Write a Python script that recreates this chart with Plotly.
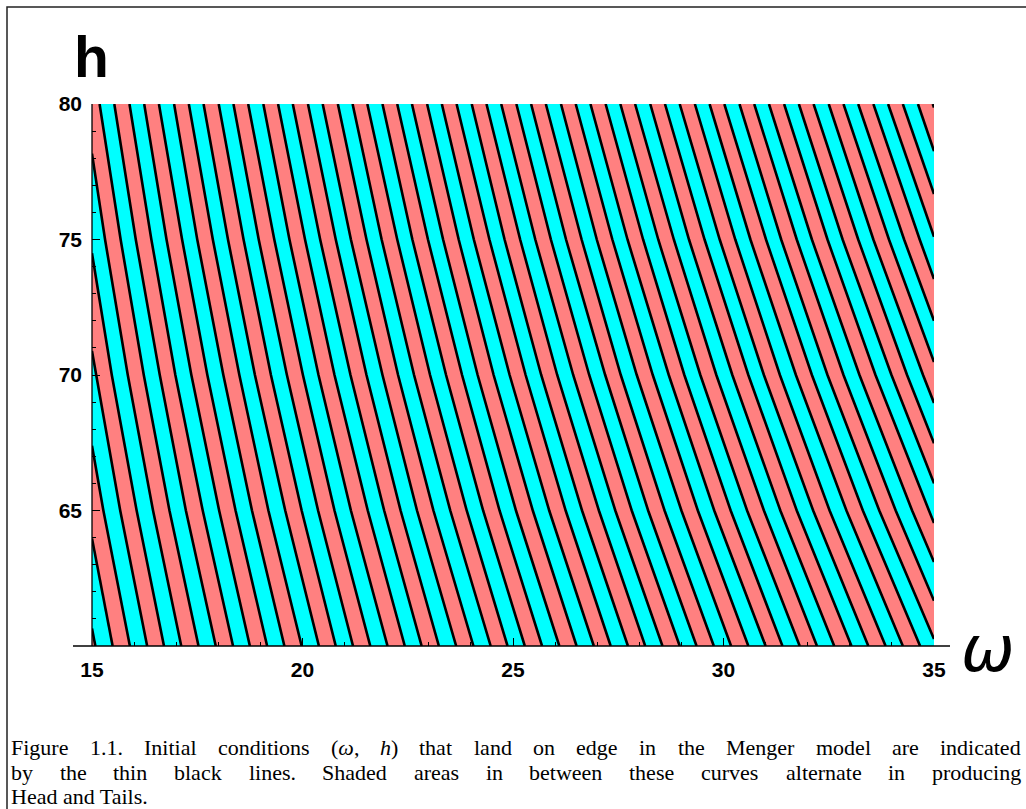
import plotly.graph_objects as go

# ---------------- data ----------------
h_levels = [60, 65, 70, 75, 80]

# omega where each edge-landing curve crosses the given h level (left to right)
omega_h60 = [15.08, 15.49, 15.90, 16.31, 16.71, 17.12, 17.53, 17.94, 18.35, 18.75,
             19.16, 19.57, 19.98, 20.39, 20.79, 21.20, 21.61, 22.02, 22.43, 22.83,
             23.24, 23.65, 24.06, 24.47, 24.87, 25.28, 25.69, 26.10, 26.51, 26.92,
             27.32, 27.73, 28.14, 28.55, 28.96, 29.36, 29.77, 30.18, 30.59, 31.00,
             31.40, 31.81, 32.22, 32.63, 33.04, 33.44, 33.85, 34.26, 34.67]
omega_h65 = [15.27, 15.67, 16.06, 16.45, 16.84, 17.23, 17.63, 18.02, 18.41, 18.80,
             19.19, 19.59, 19.98, 20.37, 20.76, 21.15, 21.55, 21.94, 22.33, 22.72,
             23.11, 23.51, 23.90, 24.29, 24.68, 25.07, 25.47, 25.86, 26.25, 26.64,
             27.04, 27.43, 27.82, 28.21, 28.60, 29.00, 29.39, 29.78, 30.17, 30.56,
             30.96, 31.35, 31.74, 32.13, 32.52, 32.92, 33.31, 33.70, 34.09, 34.48,
             34.88]
omega_h70 = [15.10, 15.47, 15.85, 16.23, 16.61, 16.98, 17.36, 17.74, 18.12, 18.50,
             18.87, 19.25, 19.63, 20.01, 20.38, 20.76, 21.14, 21.52, 21.90, 22.27,
             22.65, 23.03, 23.41, 23.79, 24.16, 24.54, 24.92, 25.30, 25.67, 26.05,
             26.43, 26.81, 27.19, 27.56, 27.94, 28.32, 28.70, 29.07, 29.45, 29.83,
             30.21, 30.59, 30.96, 31.34, 31.72, 32.10, 32.47, 32.85, 33.23, 33.61,
             33.99, 34.36, 34.74]
omega_h75 = [15.31, 15.68, 16.04, 16.41, 16.77, 17.14, 17.50, 17.87, 18.23, 18.60,
             18.96, 19.33, 19.69, 20.06, 20.42, 20.79, 21.15, 21.52, 21.88, 22.25,
             22.61, 22.98, 23.34, 23.71, 24.07, 24.44, 24.80, 25.17, 25.53, 25.90,
             26.26, 26.63, 26.99, 27.36, 27.72, 28.09, 28.45, 28.82, 29.18, 29.55,
             29.91, 30.28, 30.64, 31.01, 31.37, 31.74, 32.10, 32.47, 32.83, 33.20,
             33.56, 33.93, 34.29, 34.66]
omega_h80 = [15.18, 15.53, 15.89, 16.24, 16.59, 16.95, 17.30, 17.65, 18.01, 18.36,
             18.71, 19.07, 19.42, 19.77, 20.13, 20.48, 20.84, 21.19, 21.54, 21.90,
             22.25, 22.60, 22.96, 23.31, 23.66, 24.02, 24.37, 24.72, 25.08, 25.43,
             25.78, 26.14, 26.49, 26.84, 27.20, 27.55, 27.90, 28.26, 28.61, 28.96,
             29.32, 29.67, 30.02, 30.38, 30.73, 31.08, 31.44, 31.79, 32.14, 32.50,
             32.85, 33.20, 33.56, 33.91, 34.26, 34.62, 34.97]
# h where curves leave through the left edge (omega = 15) / enter through the right edge (omega = 35)
left_edge_h = [60.65, 63.97, 67.39, 70.89, 74.49, 78.17]
right_edge_h = [60.26, 61.67, 63.10, 64.54, 66.00, 67.48, 68.97, 70.48, 72.00,
                73.54, 75.10, 76.68, 78.26, 79.87]

x_range = [15, 35]
y_range = [60, 80]
x_ticks = [15, 20, 25, 30, 35]
y_ticks = [65, 70, 75, 80]
x_title = "ω"
y_title = "h"
caption_lines = [
    "Figure 1.1. Initial conditions (ω, h) that land on edge in the Menger model are indicated",
    "by the thin black lines. Shaded areas in between these curves alternate in producing",
    "Head and Tails.",
]
italic_words = {"h)": "<i>h</i>)", "(ω,": "(<i>ω</i>,"}

# ---------------- geometry of the page ----------------
W, H = 1026, 809
PL, PR, PT, PB = 92, 934, 104, 646
PW, PH = PR - PL, PB - PT


def px(x):
    return (x - PL) / PW


def py(y):
    return (PB - y) / PH


PINK = "#FF8080"
CYAN = "#00FFFF"

# ---------------- assemble curves ----------------
rows = [omega_h60, omega_h65, omega_h70, omega_h75, omega_h80]
N = len(left_edge_h) + len(omega_h80)
nR = len(right_edge_h)
paths = [[] for _ in range(N)]
for h, row in zip(h_levels, rows):
    start = sum(1 for v in left_edge_h if v < h)
    for j, w in enumerate(row):
        if start + j < N:
            paths[start + j].append((w, h))
for i, hl in enumerate(left_edge_h):
    paths[i].append((x_range[0], hl))
for j, hr in enumerate(right_edge_h):
    paths[N - nR + j].append((x_range[1], hr))
for p in paths:
    p.sort(key=lambda t: t[1])


def on_left(pt):
    return pt[0] == x_range[0] and pt[1] < y_range[1]


def on_right(pt):
    return pt[0] == x_range[1] and pt[1] > y_range[0]


fx, fy = [], []


def add_poly(pts):
    for a, b in pts:
        fx.append(a)
        fy.append(b)
    fx.append(None)
    fy.append(None)


# region before the first curve (bottom-left corner)
add_poly(paths[0] + [(x_range[0], y_range[0])])
for i in range(1, N - 1, 2):
    a, b = paths[i], paths[i + 1]
    poly = list(a)
    if on_left(a[-1]) and not on_left(b[-1]):
        poly.append((x_range[0], y_range[1]))
    poly += b[::-1]
    if on_right(b[0]) and not on_right(a[0]):
        poly.append((x_range[1], y_range[0]))
    add_poly(poly)

lx, ly = [], []
for p in paths:
    for a, b in p:
        lx.append(a)
        ly.append(b)
    lx.append(None)
    ly.append(None)

fig = go.Figure()
fig.add_trace(go.Scatter(x=fx, y=fy, mode="lines", fill="toself", fillcolor=PINK,
                         line=dict(width=0, color=PINK), hoverinfo="skip"))
fig.add_trace(go.Scatter(x=lx, y=ly, mode="lines", line=dict(color="black", width=2.6),
                         hoverinfo="skip"))

tickfont = dict(family="Liberation Sans", size=21, color="black", weight="bold")
fig.update_xaxes(range=x_range, showgrid=False, zeroline=False, showline=False,
                 ticks="inside", ticklen=8, tickwidth=1.2, tickcolor="black",
                 tickvals=x_ticks, tickfont=tickfont, ticklabelstandoff=9,
                 minor=dict(ticks="inside", ticklen=4, tickwidth=1.2, tickcolor="black",
                            dtick=1, tick0=15),
                 automargin=False)
fig.update_yaxes(range=y_range, showgrid=False, zeroline=False, showline=False,
                 ticks="inside", ticklen=8, tickwidth=1.2, tickcolor="black",
                 tickvals=y_ticks, tickfont=tickfont, ticklabelstandoff=9,
                 minor=dict(ticks="inside", ticklen=4, tickwidth=1.2, tickcolor="black",
                            dtick=1, tick0=60),
                 automargin=False)

shapes = [
    dict(type="line", xref="paper", yref="paper", x0=px(73), x1=px(950), y0=0, y1=0,
         line=dict(color="black", width=1.3), layer="above"),
    dict(type="line", xref="paper", yref="paper", x0=0, x1=0, y0=0, y1=1,
         line=dict(color="black", width=1.3), layer="above"),
    dict(type="rect", xref="paper", yref="paper", x0=px(7), x1=px(1040), y0=py(820), y1=py(7),
         line=dict(color="#222222", width=1.5), fillcolor="rgba(0,0,0,0)", layer="above"),
]

annotations = [
    dict(text=y_title, xref="paper", yref="paper", x=px(91), y=py(57), showarrow=False,
         xanchor="center", yanchor="middle",
         font=dict(family="Liberation Sans", size=57, color="black", weight="bold")),
    dict(text=x_title, xref="paper", yref="paper", x=px(988), y=py(649), showarrow=False,
         xanchor="center", yanchor="middle",
         font=dict(family="DejaVu Sans", size=64, color="black", style="italic")),
]

# ---------- justified caption (Times-like advance widths, 1/1000 em) ----------
CAP_SIZE = 22
ADV = {" ": 250, "(": 333, ")": 333, ",": 250, ".": 250, "1": 500,
       "a": 444, "b": 500, "c": 444, "d": 500, "e": 444, "f": 333, "g": 500, "h": 500,
       "i": 278, "k": 500, "l": 278, "m": 778, "n": 500, "o": 500, "p": 500, "r": 333,
       "s": 389, "t": 278, "u": 500, "v": 500, "w": 722, "y": 500,
       "F": 556, "H": 722, "I": 333, "M": 889, "S": 556, "T": 611, "ω": 660}


def wwidth(word):
    return sum(ADV.get(c, 500) for c in word) * CAP_SIZE / 1000.0


CAP_X0, CAP_X1 = 10, 1020
cap_y = [747, 772, 796]
cap_font = dict(family="Liberation Serif", size=CAP_SIZE, color="black")
for li, (line, yc) in enumerate(zip(caption_lines, cap_y)):
    words = line.split(" ")
    if li == len(caption_lines) - 1:
        annotations.append(dict(text=line, xref="paper", yref="paper", x=px(CAP_X0), y=py(yc),
                                showarrow=False, xanchor="left", yanchor="middle",
                                borderpad=0, font=cap_font))
        continue
    total = sum(wwidth(w) for w in words)
    gap = (CAP_X1 - CAP_X0 - total) / (len(words) - 1)
    x = CAP_X0
    for w in words:
        annotations.append(dict(text=italic_words.get(w, w), xref="paper", yref="paper",
                                x=px(x), y=py(yc), showarrow=False, xanchor="left",
                                yanchor="middle", borderpad=0, font=cap_font))
        x += wwidth(w) + gap

fig.update_layout(width=W, height=H, margin=dict(l=PL, r=W - PR, t=PT, b=H - PB, pad=0),
                  plot_bgcolor=CYAN, paper_bgcolor="white", showlegend=False,
                  shapes=shapes, annotations=annotations)

fig.write_html("out.html", config={"displayModeBar": False},
               post_script="document.body.style.margin='0px';")
